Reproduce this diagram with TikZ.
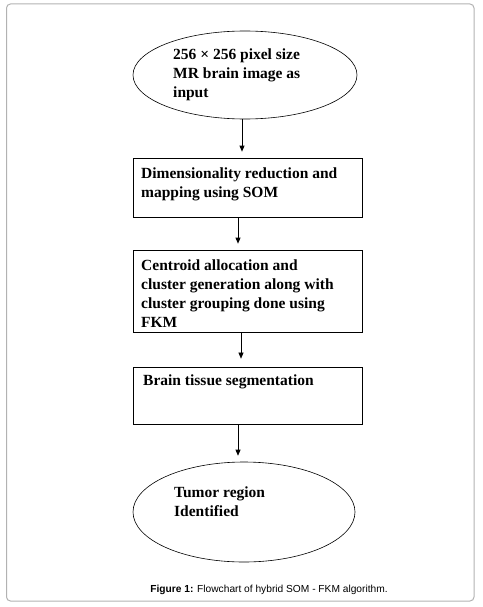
\documentclass[tikz,border=0pt]{standalone}
\usepackage{fontspec}
\setmainfont{Liberation Serif}
\newfontfamily\capfont{Liberation Sans}
\usetikzlibrary{shapes.geometric,arrows.meta}
\begin{document}
\begin{tikzpicture}[x=1pt,y=-1pt,
  boxstyle/.style={draw=black,line width=0.7pt,rectangle,inner sep=0pt,minimum width=229pt},
  ellstyle/.style={draw=black,line width=0.6pt,ellipse,inner sep=0pt},
  txt/.style={anchor=north west,inner sep=0pt,align=left,font=\fontsize{15.5pt}{19pt}\selectfont\bfseries},
  arr/.style={draw=black,line width=0.7pt,-{Triangle[length=6pt,width=5pt]},shorten >=6pt}]
\useasboundingbox (0,0) rectangle (482,607);
\draw[black!30,line width=1pt,rounded corners=4pt] (6.5,4) rectangle (474,601);
% shapes
\node[ellstyle,minimum width=224pt,minimum height=88pt] (e1) at (245,75) {};
\node[boxstyle,minimum height=59pt] (b1) at (247.5,187.5) {};
\node[boxstyle,minimum height=82pt] (b2) at (247.5,291) {};
\node[boxstyle,minimum height=57pt] (b3) at (247.5,395.5) {};
\node[ellstyle,minimum width=222pt,minimum height=100pt] (e2) at (244,512) {};
% texts
\node[txt] (t1) at (173,48.5) {256 × 256 pixel size\\MR brain image as\\input};
\node[txt] (t2) at (141,168) {Dimensionality reduction and\\mapping using SOM};
\node[txt] (t3) at (141,259.5) {Centroid allocation and\\cluster generation along with\\cluster grouping done using\\FKM};
\node[txt] (t4) at (143,374.5) {Brain tissue segmentation};
\node[txt] (t5) at (174,487) {Tumor region\\Identified};
% arrows
\draw[arr] ([xshift=-3pt]e1.south) -- ([xshift=-3pt]e1.south |- b1.north);
\draw[arr] ([xshift=-9.5pt]b1.south) -- ([xshift=-9.5pt]b1.south |- b2.north);
\draw[arr,line width=0.5pt,shorten >=8pt] ([xshift=-6.5pt]b2.south) -- ([xshift=-6.5pt]b2.south |- b3.north);
\draw[arr] ([xshift=-9.5pt]b3.south) -- ([xshift=-9.5pt]b3.south |- e2.north);
% caption
\node[font=\capfont\fontsize{10.2pt}{12pt}\selectfont,inner sep=0pt] (cap) at (269,590) {\textbf{Figure 1:} Flowchart of hybrid SOM - FKM algorithm.};
\end{tikzpicture}
\end{document}
